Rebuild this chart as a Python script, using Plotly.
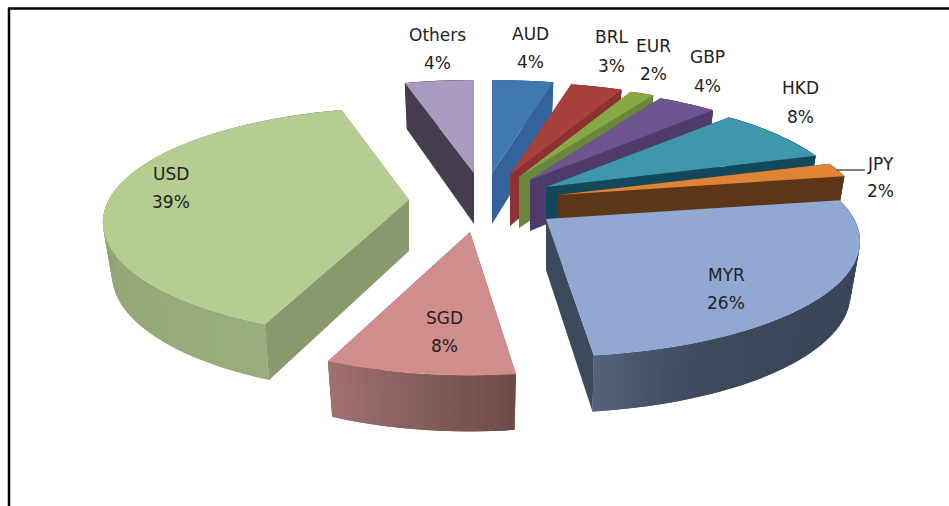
import math
import plotly.graph_objects as go

# ---- chart data ----
currencies = ["AUD", "BRL", "EUR", "GBP", "HKD", "JPY", "MYR", "SGD", "USD", "Others"]
shares = [3.8, 3.2, 1.5, 3.8, 7.9, 2.0, 25.8, 8.45, 39.25, 4.3]

# ---- styling and layout ----
tips = [(492, 173), (510, 175), (519, 177), (530, 180), (546, 187),
        (557, 195), (546, 219), (470, 232), (409, 200), (474, 173)]
x_scale = [1.0, 1.0, 1.0, 0.97, 0.97, 0.98, 1.0, 0.96, 0.975, 1.0]
y_scale = [1.0, 1.0, 1.0, 1.0, 1.0, 1.0, 1.0, 1.04, 1.0, 1.0]
top_col = ["#4077ad", "#a8403c", "#86a845", "#6e5590", "#3f97ad",
           "#dd8436", "#91a8d2", "#d08d8b", "#b6cd92", "#a99bc0"]
side_col = ["#34629a", "#8c3230", "#6a8540", "#4f3a6c", "#13475a",
            "#5d3618", "#3d4a5c", "#8a605f", "#88996e", "#453c50"]
arc_from = ["#34629a", "#8c3230", "#6a8540", "#4f3a6c", "#13475a",
            "#5d3618", "#3a4658", "#6d4a48", "#9aad7c", "#453c50"]
arc_to = ["#34629a", "#8c3230", "#6a8540", "#4f3a6c", "#13475a",
          "#5d3618", "#56647f", "#a07170", "#85966b", "#453c50"]
arc_power = [1, 1, 1, 1, 1, 1, 8, 1, 1, 1]
label_pos = [(530, 34, 62), (611, 37, 66), (653, 46, 74), (707, 57, 86), (800, 88, 117),
             (880, 164, 191), (726, 275, 303), (444, 318, 346), (171, 174, 202), (437, 35, 63)]
order = [0, 9, 1, 2, 3, 4, 5, 8, 6, 7]

RX, RY, K = 308.0, 111.0, 0.195
SHRINK = 0.97


def project(theta, sx, sy):
    u, v = math.sin(theta), -math.cos(theta)
    w = 1 - K * v
    return sx * u * RX / w, sy * v * RY / w, v


def depth(v):
    return 51 + 5 * v


def lerp(a, b, t):
    ca = [int(a[i:i + 2], 16) for i in (1, 3, 5)]
    cb = [int(b[i:i + 2], 16) for i in (1, 3, 5)]
    return "#%02x%02x%02x" % tuple(round(x + (y - x) * t) for x, y in zip(ca, cb))


fig = go.Figure()


def poly(pts, colour, name):
    fig.add_trace(go.Scatter(
        x=[p[0] for p in pts] + [pts[0][0]], y=[p[1] for p in pts] + [pts[0][1]],
        mode="lines", fill="toself", fillcolor=colour,
        line=dict(color=colour, width=0), name=name, hoverinfo="name", showlegend=False))


total = sum(shares)
starts = {}
c = 0.0
for i, s in enumerate(shares):
    starts[i] = c
    c += s

for i in order:
    name = currencies[i]
    a0 = starts[i] / total * 2 * math.pi
    a1 = (starts[i] + shares[i]) / total * 2 * math.pi
    mid = (a0 + a1) / 2
    tx, ty = tips[i]
    n = max(6, int(shares[i] * 3))
    rim = [project(a0 + (a1 - a0) * j / n, x_scale[i], y_scale[i]) for j in range(n + 1)]
    top = [(tx + x, ty + y) for x, y, _ in rim]
    bot = [(tx + x * SHRINK, ty + y + depth(v)) for x, y, v in rim]
    tb = (tx, ty + depth(0))
    start_wall = [(tx, ty), top[0], bot[0], tb]
    end_wall = [(tx, ty), top[-1], bot[-1], tb]
    right_side = mid < math.pi
    hidden, front = (start_wall, end_wall) if right_side else (end_wall, start_wall)

    def arc():
        # each strip overlaps the next one so no seams show between them
        for j in range(n):
            k = min(j + 2, n)
            t = ((j + 0.5) / n) ** arc_power[i]
            poly([top[j]] + top[j + 1:k + 1] + bot[j + 1:k + 1][::-1] + [bot[j]],
                 lerp(arc_from[i], arc_to[i], t), name)

    if math.cos(mid) > 0:
        arc()
    poly(hidden, side_col[i], name)
    poly(front, side_col[i], name)
    if math.cos(mid) <= 0:
        arc()
    poly([(tx, ty)] + top, top_col[i], name)

for name, share, (lx, y1, y2) in zip(currencies, shares, label_pos):
    for txt, y in ((name, y1), (f"{round(share)}%", y2)):
        fig.add_annotation(x=lx, y=y, text=txt, showarrow=False,
                           font=dict(family="DejaVu Sans", size=17, color="#222222"))

line = dict(color="#000000", width=2.5)
shapes = [
    dict(type="line", x0=9, x1=9, y0=8, y1=506, line=line),
    dict(type="line", x0=8, x1=949, y0=8.5, y1=8.5, line=line),
    dict(type="line", x0=837, x1=865, y0=170, y1=170, line=dict(color="#000000", width=1)),
]
fig.update_layout(
    width=949, height=506, margin=dict(l=0, r=0, t=0, b=0), showlegend=False,
    paper_bgcolor="white", plot_bgcolor="white", shapes=shapes,
    xaxis=dict(range=[0, 949], visible=False, fixedrange=True),
    yaxis=dict(range=[506, 0], visible=False, fixedrange=True),
)
fig.write_html("out.html", config={"displayModeBar": False},
               post_script="document.body.style.margin='0';document.documentElement.style.overflow='hidden';")
